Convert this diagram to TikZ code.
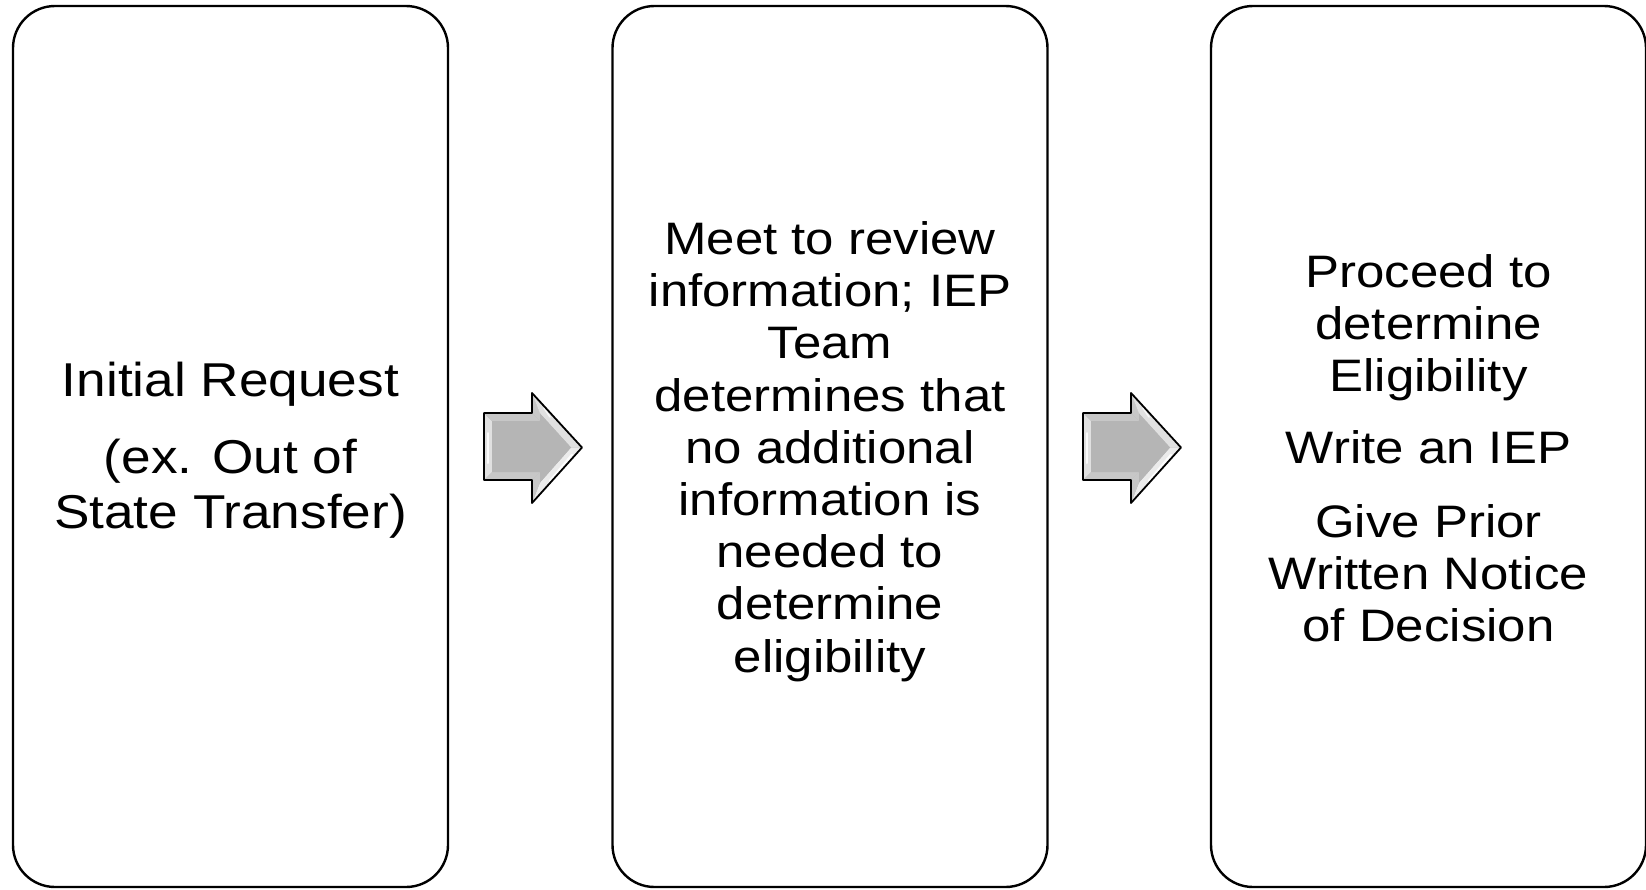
\documentclass[tikz,border=0pt]{standalone}
\usepackage{fontspec}
\setmainfont{Liberation Sans}[FakeStretch=1.12]
\begin{document}
\begin{tikzpicture}[x=1pt,y=-1pt,
  stepbox/.style={draw=black, line width=2.4pt, rounded corners=42pt, fill=white,
    minimum width=435pt, minimum height=881pt, align=center,
    font=\fontsize{45.5}{52.2}\selectfont, text=black, inner sep=0pt},
  boxtext/.style={align=center, text=black, inner sep=0pt},
  arrout/.style={draw=black, line width=1.8pt, fill=black!30, line join=round},
  facetA/.style={fill=black!12},
  facetB/.style={fill=black!22},
  facetC/.style={fill=black!8},
  arrin/.style={fill=black!29}]
\useasboundingbox (0,0) rectangle (1646,889);
\node[stepbox] (b1) at (230.5,446.5) {};
\node[stepbox] (b2) at (830,446.5) {};
\node[stepbox] (b3) at (1428.5,446.5) {};
\node[boxtext, font=\fontsize{47.5}{55.5}\selectfont] (t1) at ([yshift=-4pt]b1.center) {Initial Request\\[21pt](ex. Out of\\State Transfer)};
\node[boxtext, font=\fontsize{45.5}{52.2}\selectfont] (t2) at ([yshift=-5pt]b2.center) {Meet to review\\information; IEP\\Team\\determines that\\no additional\\information is\\needed to\\determine\\eligibility};
\node[boxtext, font=\fontsize{45.5}{52}\selectfont] (t3) at ([yshift=-1.5pt]b3.center) {Proceed to\\determine\\Eligibility\\[20pt]Write an IEP\\[21.5pt]Give Prior\\Written Notice\\of Decision};
\coordinate (a1) at (484,393);
\coordinate (a2) at (1083,393);
\foreach \a in {a1,a2}{
  \begin{scope}[shift={(\a)}]
    % outer
    \fill[black!30] (0,20) -- (48,20) -- (48,0) -- (98,54.5) -- (48,110) -- (48,87) -- (0,87) -- cycle;
    % facets
    \fill[facetA] (0,20) -- (8,28) -- (8,79) -- (0,87) -- cycle;
    \fill[facetB] (0,20) -- (48,20) -- (56,28) -- (8,28) -- cycle;
    \fill[facetB] (48,0) -- (56,20.4) -- (56,28) -- (48,20) -- cycle;
    \fill[facetA] (48,0) -- (98,54.5) -- (87,54.5) -- (56,20.4) -- cycle;
    \fill[facetC] (98,54.5) -- (48,110) -- (56,89.6) -- (87,54.5) -- cycle;
    \fill[facetB] (48,110) -- (48,87) -- (56,79) -- (56,89.6) -- cycle;
    \fill[facetB] (0,87) -- (48,87) -- (56,79) -- (8,79) -- cycle;
    % inner
    \fill[arrin] (8,28) -- (56,28) -- (56,20.4) -- (87,54.5) -- (56,89.6) -- (56,79) -- (8,79) -- cycle;
    % highlights
    \draw[white, line width=2pt, line cap=round, opacity=0.9] (4,40) -- (4,70);
    \draw[white, line width=1.5pt, line cap=round, opacity=0.8] (60,15) -- (66,24);
    \draw[white, line width=2.5pt, line cap=round, opacity=0.9] (88,62) -- (66,88);
    % outline
    \draw[arrout, fill=none] (0,20) -- (48,20) -- (48,0) -- (98,54.5) -- (48,110) -- (48,87) -- (0,87) -- cycle;
  \end{scope}
}
\end{tikzpicture}
\end{document}
